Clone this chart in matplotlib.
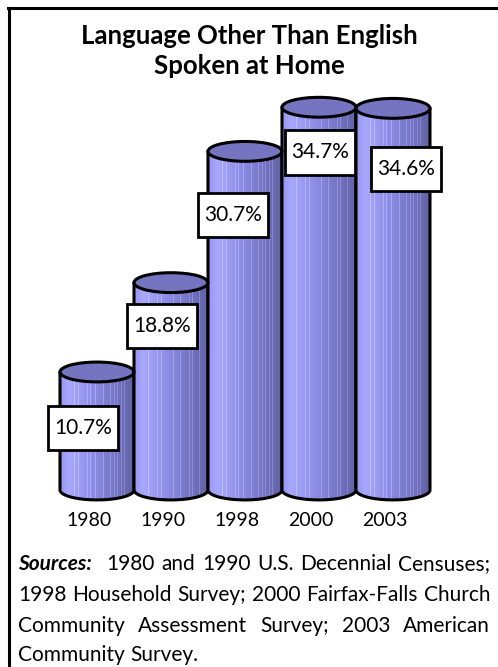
import numpy as np
import matplotlib
matplotlib.use("Agg")
import matplotlib.pyplot as plt
from matplotlib.patches import Polygon, Ellipse, Rectangle
from matplotlib.lines import Line2D

# data
years = ["1980", "1990", "1998", "2000", "2003"]
shares = [10.7, 18.8, 30.7, 34.7, 34.6]
labels = ["10.7%", "18.8%", "30.7%", "34.7%", "34.6%"]

# where each value box sits relative to its cylinder (layout only)
box_dx = [-0.19, -0.12, -0.16, 0.01, 0.18]
box_drop = [5.1, 3.9, 5.8, 4.1, 5.5]

source_lines = [
    ["1980", "and", "1990", "U.S.", "Decennial", "Censuses;"],
    ["1998", "Household", "Survey;", "2000", "Fairfax-Falls", "Church"],
    ["Community", "Assessment", "Survey;", "2003", "American"],
    ["Community", "Survey."],
]

W, H = 498, 667
fig = plt.figure(figsize=(W / 100, H / 100), dpi=100)
fig.patch.set_facecolor("white")
plt.rcParams["font.family"] = ["Lato", "DejaVu Sans"]


def px_ax(l, t, r, b):
    return fig.add_axes([l / W, 1 - b / H, (r - l) / W, (b - t) / H])


ax = px_ax(40, 90, 460, 505)
x0 = -(97 - 40) / 74
x1 = (460 - 97) / 74
ylo, yhi = -(505 - 490) / 11.03, (490 - 90) / 11.03
ax.axis("off")

# cylinder shading: light on left, dark on right, thin light stripes
n = 120
t = np.linspace(0, 1, n)
ramp_t = [0, 0.12, 0.45, 0.8, 1]
ramp = np.array([[150, 150, 240], [168, 168, 255], [140, 140, 228],
                 [112, 112, 188], [98, 98, 165]], float)
img = np.stack([np.interp(t, ramp_t, ramp[:, c]) for c in range(3)], axis=1)
stripes = np.zeros(n)
for k in [6, 11, 19, 23, 30, 37, 44, 49, 57, 63, 70, 74, 81, 88, 93, 99, 104]:
    stripes[k] = 1
img = img + stripes[:, None] * 28
img = np.clip(img, 0, 255)[None, :, :] / 255

ry = 0.9
theta = np.linspace(np.pi, 2 * np.pi, 60)
for i, v in enumerate(shares):
    xs = [i - 0.5, i - 0.5] + list(i + 0.5 * np.cos(theta)) + [i + 0.5]
    ys = [v, 0] + list(ry * np.sin(theta)) + [v]
    body = Polygon(np.column_stack([xs, ys]), closed=True, fc="none",
                   ec="black", lw=2.2, zorder=2 + i * 0.1, joinstyle="round")
    ax.add_patch(body)
    im = ax.imshow(img, extent=(i - 0.5, i + 0.5, -ry, v), aspect="auto",
                   zorder=1.9 + i * 0.1, interpolation="nearest")
    im.set_clip_path(body)
    ax.add_patch(Ellipse((i, v), 1.0, 2 * ry, fc="#7474c0", ec="black",
                         lw=2.2, zorder=2.05 + i * 0.1))

ax.set_xlim(x0, x1)
ax.set_ylim(ylo, yhi)

bw, bh = 0.95, 4.0
for i, v in enumerate(shares):
    cx, cy = i + box_dx[i], v - box_drop[i]
    ax.add_patch(Rectangle((cx - bw / 2, cy - bh / 2), bw, bh, fc="white",
                           ec="black", lw=2.0, zorder=9))
    ax.text(cx, cy, labels[i], ha="center", va="center", fontsize=15,
            zorder=10)
    ax.text(i - 0.11, -(520 - 490) / 11.03, years[i], ha="center",
            va="center", fontsize=14, clip_on=False)

fig.text(0.5, 1 - 51 / H, "Language Other Than English\nSpoken at Home",
         ha="center", va="center", fontsize=18.5, fontweight="bold",
         linespacing=1.35)

# frame lines (top and left)
fig.add_artist(Line2D([8 / W, 1], [1 - 8 / H, 1 - 8 / H], color="black",
                      lw=2.2, transform=fig.transFigure))
fig.add_artist(Line2D([9 / W, 9 / W], [0, 1 - 8 / H], color="black",
                      lw=2.2, transform=fig.transFigure))

# justified source note
renderer = fig.canvas.get_renderer()
left, right = 18, 490
line_y = [564, 595, 626, 655]


def width(s, fs, **kw):
    tx = fig.text(0, 0, s, fontsize=fs, **kw)
    w = tx.get_window_extent(renderer).width
    tx.remove()
    return w


# pick a size so the second line fills the column with plain spacing
fs = 13.0
while width(" ".join(source_lines[1]), fs + 0.1) < right - left:
    fs += 0.1

space = width("a a", fs) - width("aa", fs)
for j, words in enumerate(source_lines):
    items = [(w, {}) for w in words]
    extra = 0
    if j == 0:
        items = [("Sources:", dict(fontweight="bold", fontstyle="italic"))] + items
        extra = 1.5 * space
    ws = [width(w, fs, **kw) for w, kw in items]
    if j < len(source_lines) - 1:
        gap = (right - left - sum(ws) - extra) / (len(items) - 1)
    else:
        gap = space
    x = left
    for k, ((w, kw), wd) in enumerate(zip(items, ws)):
        fig.text(x / W, 1 - line_y[j] / H, w, fontsize=fs, ha="left",
                 va="center", **kw)
        x += wd + gap + (extra if k == 0 else 0)

fig.savefig("out.png", dpi=100, facecolor="white")
